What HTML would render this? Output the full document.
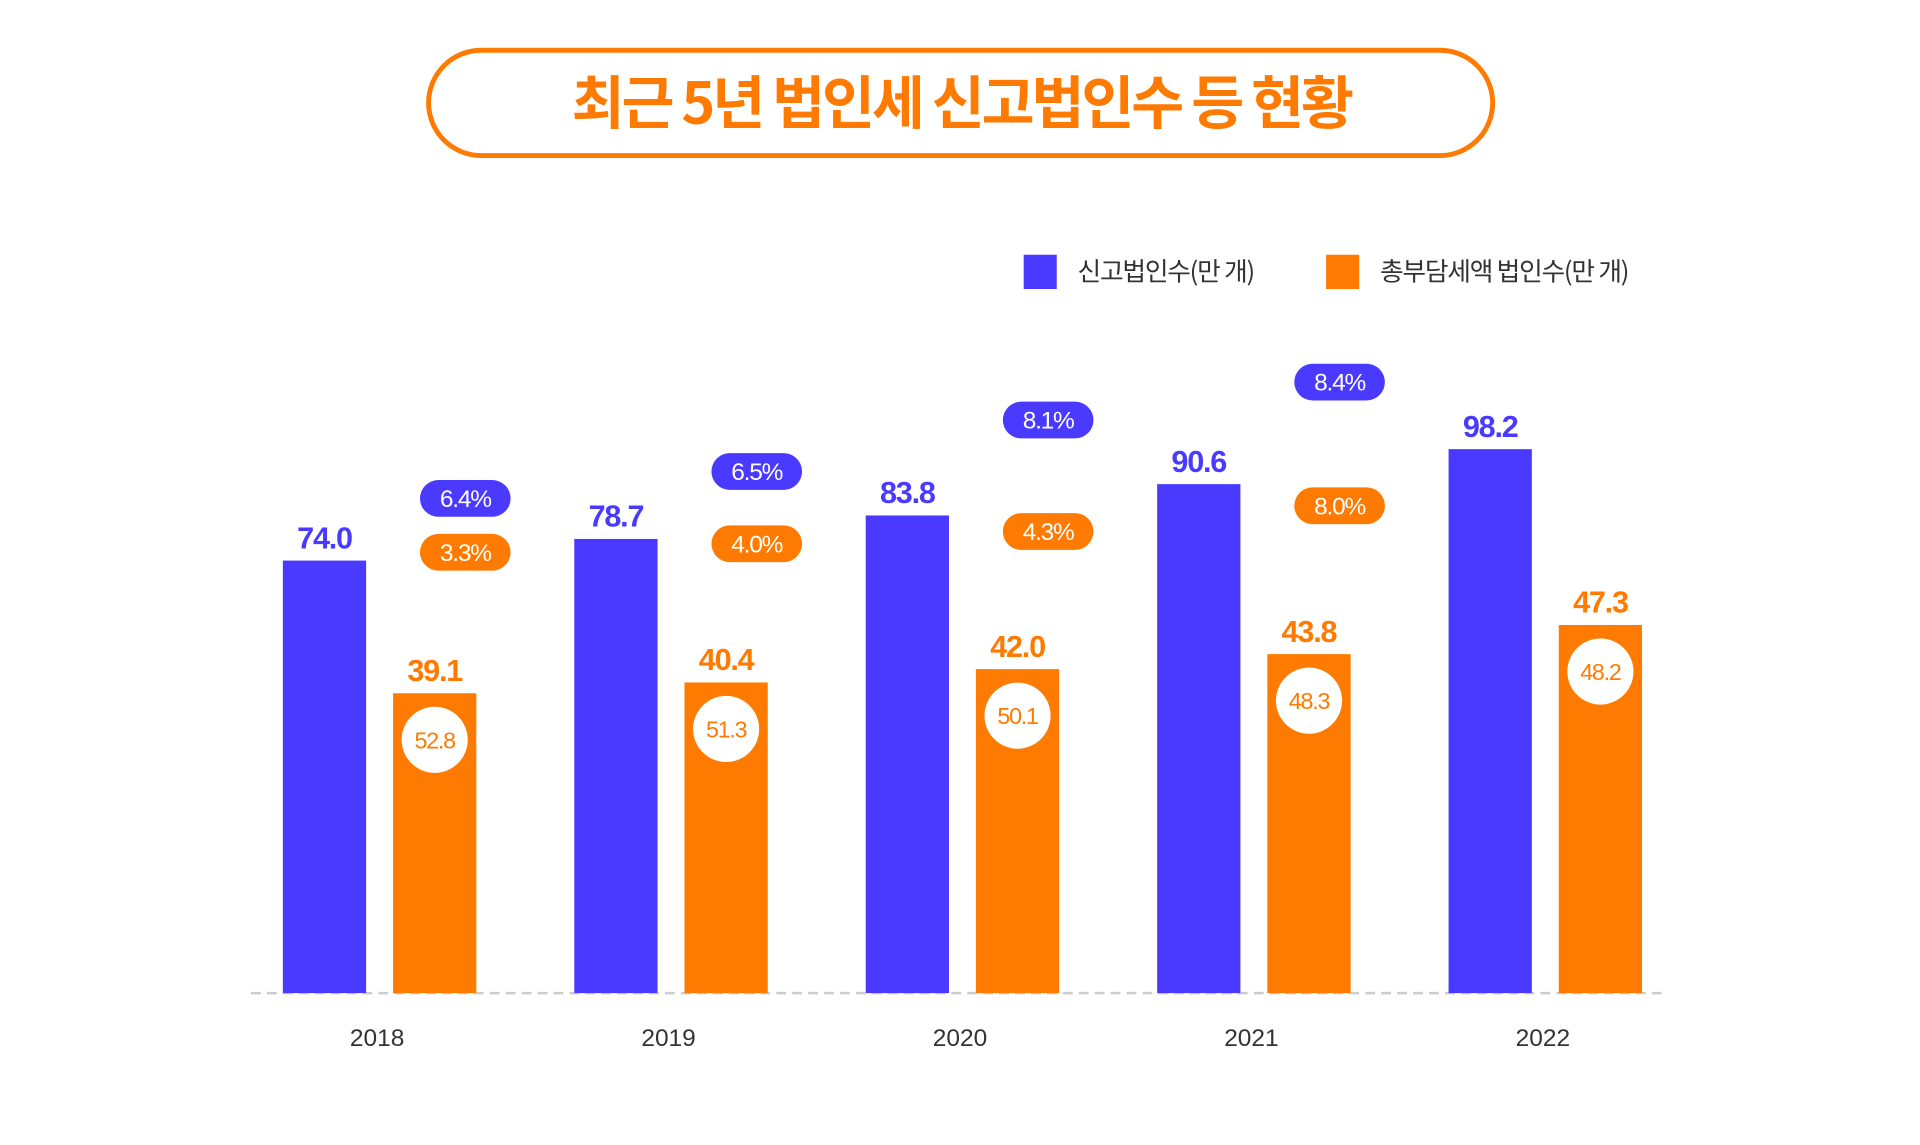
<!DOCTYPE html>
<html><head><meta charset="utf-8"><style>
html,body{margin:0;padding:0;background:#fff;}
svg{display:block;font-family:"Liberation Sans","Noto Sans CJK KR",sans-serif;}
</style></head><body>
<svg id="chart" width="1920" height="1145" viewBox="0 0 1568 935" xmlns="http://www.w3.org/2000/svg">
<rect x="350" y="41" width="869" height="86" rx="43" fill="#fff" stroke="#FF7A00" stroke-width="4"/>
<text x="785" y="101" text-anchor="middle" font-size="47" font-weight="bold" fill="#FF7A00" font-family="'Noto Sans CJK KR',sans-serif" letter-spacing="-2.5">최근 5년 법인세 신고법인수 등 현황</text>
<g>
<rect x="836" y="208" width="27" height="28" fill="#4A3AFF"/>
<text x="880" y="229" font-size="21" fill="#333" font-family="'Noto Sans CJK KR',sans-serif" letter-spacing="-1">신고법인수(만 개)</text>
<rect x="1083" y="208" width="27" height="28" fill="#FF7A00"/>
<text x="1127" y="229" font-size="21" fill="#333" font-family="'Noto Sans CJK KR',sans-serif" letter-spacing="-1">총부담세액 법인수(만 개)</text>
</g>
<line x1="205" y1="811" x2="1362" y2="811" stroke="#ccc" stroke-width="2" stroke-dasharray="8,5"/>
<g id="marks"></g>
</svg>
<script>
const years = ["2018","2019","2020","2021","2022"];
const filed = [74.0, 78.7, 83.8, 90.6, 98.2];
const taxpaying = [39.1, 40.4, 42.0, 43.8, 47.3];
const ratio = ["52.8","51.3","50.1","48.3","48.2"];
const filedGrowth = ["6.4%","6.5%","8.1%","8.4%"];
const taxGrowth = ["3.3%","4.0%","4.3%","8.0%"];

const NS="http://www.w3.org/2000/svg";
const g=document.getElementById('marks');
const base=811;
function hBlue(v){return 75+v*3.76;}
function hOrange(v){return -21+v*6.8;}
function xCenter(i){return 308+i*238;}
function mk(tag,attrs,txt){const e=document.createElementNS(NS,tag);for(const k in attrs)e.setAttribute(k,attrs[k]);if(txt!==undefined)e.textContent=txt;g.appendChild(e);return e;}
const BW=68;
years.forEach((y,i)=>{
  const c=xCenter(i);
  const bt=base-hBlue(filed[i]);
  let e=mk('rect',{x:c-77,y:bt,width:BW,height:base-bt,fill:'#4A3AFF'});
  
  
  e=mk('text',{x:c-43,y:bt-10,'text-anchor':'middle','font-size':25,'font-weight':'bold',fill:'#4A3AFF','letter-spacing':'-1'},filed[i].toFixed(1));
  
  
  const ot=base-hOrange(taxpaying[i]);
  e=mk('rect',{x:c+13,y:ot,width:BW,height:base-ot,fill:'#FF7A00'});
  
  
  e=mk('text',{x:c+47,y:ot-10,'text-anchor':'middle','font-size':25,'font-weight':'bold',fill:'#FF7A00','letter-spacing':'-1'},taxpaying[i].toFixed(1));
  
  
  e=mk('circle',{cx:c+47,cy:ot+38,r:27,fill:'#fff'});
  
  
  e=mk('text',{x:c+47,y:ot+45,'text-anchor':'middle','font-size':19,fill:'#FF7A00','letter-spacing':'-1'},ratio[i]);
  
  
  e=mk('text',{x:c,y:854,'text-anchor':'middle','font-size':20,fill:'#333'},y);
  
  
});
const bluePillY=[407,385,343,312];
const orangePillY=[451,444,434,413];
filedGrowth.forEach((t,i)=>{
  const c=xCenter(i)+72;
  let e=mk('rect',{x:c-37,y:bluePillY[i]-15,width:74,height:30,rx:15,fill:'#4A3AFF'});
  
  
  e=mk('text',{x:c,y:bluePillY[i]+7,'text-anchor':'middle','font-size':20,fill:'#fff','letter-spacing':'-1'},t);
  
  
  e=mk('rect',{x:c-37,y:orangePillY[i]-15,width:74,height:30,rx:15,fill:'#FF7A00'});
  
  
  e=mk('text',{x:c,y:orangePillY[i]+7,'text-anchor':'middle','font-size':20,fill:'#fff','letter-spacing':'-1'},taxGrowth[i]);
  
  
});
</script>
</body></html>
